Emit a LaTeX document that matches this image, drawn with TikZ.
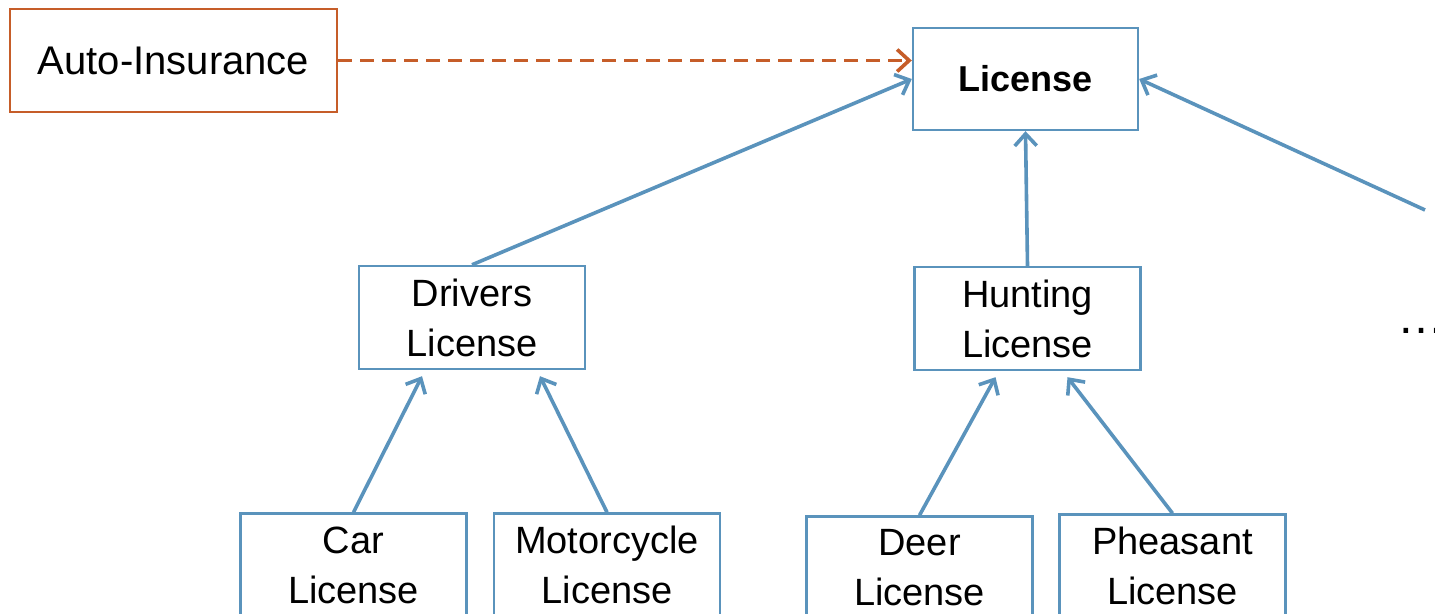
\documentclass[tikz,border=0pt]{standalone}
\usepackage{fontspec}
\setmainfont{Liberation Sans}
\usetikzlibrary{arrows.meta}
\definecolor{boxblue}{HTML}{5A93BC}
\definecolor{rust}{HTML}{C65D29}

\begin{document}
\begin{tikzpicture}[x=0.5pt,y=-0.5pt,
  cls/.style={draw=boxblue,line width=1.2pt,minimum width=113pt,minimum height=51.5pt,
    align=center,inner sep=0pt,font=\fontsize{19}{25}\selectfont},
  inherit/.style={boxblue,line width=1.8pt,-{Straight Barb[length=6pt,width=11pt]}},
  uses/.style={rust,line width=1.8pt,dash pattern=on 7pt off 4pt,
    -{Straight Barb[length=6pt,width=11pt]}}]
% fixed frame of 1435 x 614 px, boxes at the bottom are cut off
\useasboundingbox (0,0) rectangle (1435,614);
\clip (0,0) rectangle (1435,614);

\node[draw=rust,line width=1.2pt,minimum width=163.5pt,minimum height=51.5pt,inner sep=0pt,
  font=\fontsize{20}{25}\selectfont] (auto) at (173.5,60.5) {Auto-Insurance};
\node[cls,minimum width=112.5pt,minimum height=51pt,font=\fontsize{18}{22}\selectfont\bfseries]
  (license) at (1025.5,79) {License};

\node[cls] (drivers) at (472,317.5) {Drivers\\License};
\node[cls] (hunting) at (1027.5,318.5) {Hunting\\License};

\node[cls] (car) at (353.5,565) {Car\\License};
\node[cls] (moto) at (607,565) {Motorcycle\\License};
\node[cls] (deer) at (919.5,568) {Deer\\License};
\node[cls] (pheasant) at (1172.5,566) {Pheasant\\License};

\node[anchor=base west,inner sep=0pt,font=\fontsize{24}{24}\selectfont] (more) at (1397,334) {…};
\coordinate (other) at (1425,210);

\draw[uses] (auto.east) -- (auto.east -| license.west);
\draw[inherit] (drivers.north) -- (license.west);
\draw[inherit] (hunting.north) -- (license.south);
\draw[inherit] (other) -- (license.east);

\draw[inherit] (car.north) -- ([xshift=-25pt,yshift=-3pt]drivers.south);
\draw[inherit] (moto.north) -- ([xshift=34pt,yshift=-3pt]drivers.south);
\draw[inherit] (deer.north) -- ([xshift=-16pt,yshift=-3pt]hunting.south);
\draw[inherit] (pheasant.north) -- ([xshift=20pt,yshift=-3pt]hunting.south);
\end{tikzpicture}
\end{document}
